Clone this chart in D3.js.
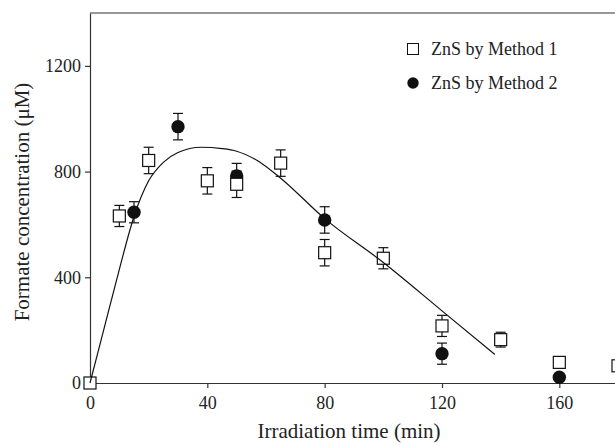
<!DOCTYPE html>
<html>
<head>
<meta charset="utf-8">
<script src="https://cdn.jsdelivr.net/npm/d3@7"></script>
<style>
  body { margin: 0; background: #fff; }
  svg { display: block; }
  .axis text { font-family: "Liberation Serif", "Times New Roman", serif; font-size: 18px; fill: #222; }
  .axis path, .axis line { stroke: #333; stroke-width: 1.2; }
</style>
</head>
<body>
<div id="chart"></div>
<script>
var w = 615;
var h = 443;

// ZnS by Method 1 (open squares)
var timeM1 = [0, 10, 20, 40, 50, 65, 80, 100, 120, 140, 160, 180];
var concM1 = [0, 632, 842, 765, 752, 832, 493, 472, 216, 164, 78, 65];
var errM1  = [0, 40, 50, 50, 50, 50, 50, 40, 40, 28, 0, 0];

// ZnS by Method 2 (filled circles)
var timeM2 = [15, 30, 50, 80, 120, 160];
var concM2 = [646, 970, 783, 617, 111, 22];
var errM2  = [40, 50, 48, 50, 40, 0];

// fitted curve
var fitTime = [0, 5, 10, 15, 20, 25, 30, 38, 45, 50, 57, 65, 80, 100, 120, 138];
var fitConc = [0, 215, 430, 630, 765, 835, 872, 892, 887, 877, 842, 775, 622, 456, 273, 108];

var xTicks = [0, 40, 80, 120, 160];
var yTicks = [0, 400, 800, 1200];

var svg = d3.select("#chart")
            .append("svg")
            .attr("width", w)
            .attr("height", h);

var xScale = d3.scaleLinear()
    .domain([0, 180])
    .range([90, 618]);
var yScale = d3.scaleLinear()
    .domain([0, 1400])
    .range([383, 13]);

// top frame line
svg.append("line")
    .attr("x1", xScale(0))
    .attr("x2", xScale(180))
    .attr("y1", yScale(1400))
    .attr("y2", yScale(1400))
    .attr("stroke", "#333")
    .attr("stroke-width", 1.2);

var xAxis = d3.axisBottom(xScale)
    .tickValues(xTicks)
    .tickFormat(d3.format("d"))
    .tickSize(5)
    .tickSizeOuter(0)
    .tickPadding(8);
var yAxis = d3.axisLeft(yScale)
    .tickValues(yTicks)
    .tickFormat(d3.format("d"))
    .tickSize(5)
    .tickSizeOuter(0)
    .tickPadding(4);

svg.append("g")
    .attr("class", "axis")
    .attr("transform", "translate(0," + yScale(0) + ")")
    .call(xAxis);
svg.append("g")
    .attr("class", "axis")
    .attr("transform", "translate(" + xScale(0) + ",0)")
    .call(yAxis);

// axis titles
svg.append("text")
    .attr("x", 349)
    .attr("y", 438)
    .attr("text-anchor", "middle")
    .style("font-family", "Liberation Serif, serif")
    .style("font-size", "21px")
    .style("fill", "#222")
    .text("Irradiation time (min)");
svg.append("text")
    .attr("transform", "translate(29,202) rotate(-90)")
    .attr("text-anchor", "middle")
    .style("font-family", "Liberation Serif, serif")
    .style("font-size", "21px")
    .style("fill", "#222")
    .text("Formate concentration (μM)");

var m1 = timeM1.map((t, i) => ({t: t, c: concM1[i], e: errM1[i]}));
var m2 = timeM2.map((t, i) => ({t: t, c: concM2[i], e: errM2[i]}));

// error bars
function errorBars(data) {
    var g = svg.append("g")
        .attr("stroke", "#111")
        .attr("stroke-width", 1.2);
    data.filter((d) => d.e > 0).forEach((d) => {
        var x = xScale(d.t);
        g.append("line")
            .attr("x1", x).attr("x2", x)
            .attr("y1", yScale(d.c - d.e)).attr("y2", yScale(d.c + d.e));
        [d.c - d.e, d.c + d.e].forEach((v) => {
            g.append("line")
                .attr("x1", x - 5).attr("x2", x + 5)
                .attr("y1", yScale(v)).attr("y2", yScale(v));
        });
    });
}
errorBars(m2);
errorBars(m1);

// circles first, squares on top
svg.selectAll(".dot2")
    .data(m2)
    .enter()
    .append("circle")
    .attr("class", "dot2")
    .attr("cx", (d) => xScale(d.t))
    .attr("cy", (d) => yScale(d.c))
    .attr("r", 6.7)
    .style("fill", "#111");

svg.selectAll(".dot1")
    .data(m1)
    .enter()
    .append("rect")
    .attr("class", "dot1")
    .attr("x", (d) => xScale(d.t) - 6)
    .attr("y", (d) => yScale(d.c) - 6)
    .attr("width", 12)
    .attr("height", 12)
    .style("fill", "#fff")
    .style("stroke", "#111")
    .style("stroke-width", 1.2);

// fitted line
var fit = fitTime.map((t, i) => [t, fitConc[i]]);
var line = d3.line()
    .x((d) => xScale(d[0]))
    .y((d) => yScale(d[1]))
    .curve(d3.curveMonotoneX);
svg.append("path")
    .datum(fit)
    .attr("d", line)
    .attr("fill", "none")
    .attr("stroke", "#111")
    .attr("stroke-width", 1.2);

// legend
var legend = svg.append("g");
legend.append("rect")
    .attr("x", 413 - 5.5)
    .attr("y", 49 - 5.5)
    .attr("width", 11)
    .attr("height", 11)
    .style("fill", "#fff")
    .style("stroke", "#111")
    .style("stroke-width", 1);
legend.append("circle")
    .attr("cx", 413)
    .attr("cy", 83)
    .attr("r", 5.7)
    .style("fill", "#111");
legend.selectAll("text")
    .data(["ZnS by Method 1", "ZnS by Method 2"])
    .enter()
    .append("text")
    .attr("x", 431)
    .attr("y", (d, i) => 55 + i * 34)
    .style("font-family", "Liberation Serif, serif")
    .style("font-size", "18px")
    .style("fill", "#222")
    .text((d) => d);
</script>
</body>
</html>
